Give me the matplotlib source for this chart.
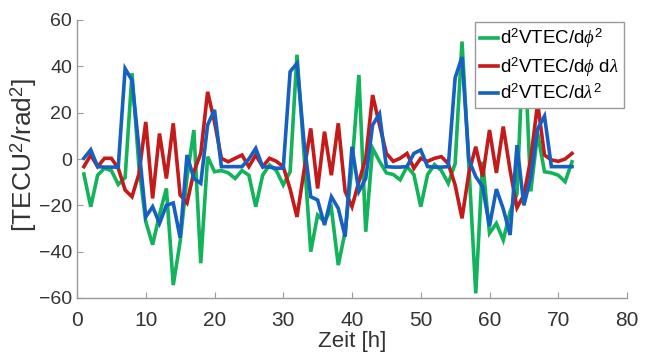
import matplotlib
matplotlib.use("Agg")
import matplotlib.pyplot as plt
import numpy as np

hours = list(range(1, 73))

d2_phi2 = [-6.5, -20.6, -7, -4, -5, -11, -8, 37, -3, -27,
           -37, -24, -12.7, -54.4, -35.7, -8, 12.5, -45, 1, -5.5,
           -5, -6, -8.4, -5, -7, -20.6, -7, -2.6, -5, -11.2,
           -5.5, 45, 3, -40, -24.2, -27, -21.3, -45.8, -31.4, -3,
           36.3, -31.4, 4.6, -1, -6, -6.7, -9, -3.3, -6.7, -20.6,
           -6.7, -2.4, -5, -10.5, -2, 50.7, -3, -58, -1.2, -32,
           -27.8, -35, -22.7, -15, 55, -14, 11, -5.5, -6, -7,
           -9.8, -1.2]

d2_phi_lam = [-3.3, 1.7, -3.3, 0.3, 0.3, -4, -13.4, -16.3, -6.5, 16,
              -17, 11, -8.4, 15.4, -15.5, -19, -5.5, 2.4, 29, 16,
              0.3, -1.2, 0.3, 1.7, -3.3, 1.7, -3.3, 0.3, -1, -3.3,
              -13, -25, -5.5, 13.2, -12.7, 11.8, -7, 15.4, -14, -20.6,
              -9.8, 0.3, 27.6, 14.7, 2.4, -1, 0.3, 2.4, -4, 0.3,
              -1, 0.3, 1, -2, -11.2, -25.6, -6, 5.3, -7.6, 12.5,
              -6, 14, -5, -21, -15.6, 0, 24, 1.7, -0.4, -1,
              0, 2.4]

d2_lam2 = [0.3, 4, -3.3, -3.5, -3.5, -3.5, 39, 34, 5, -25,
           -20.6, -27.8, -20, -19, -34, 1.7, -8.4, -10.5, 14.7, 21.2,
           -3.3, -3.3, -3.3, -3.3, 0, 4.6, -3.3, -3.5, -4, -4,
           37.7, 41.3, 8, -16.3, -17.7, -28.5, -16.3, -21.3, -33.5, 5.3,
           -14, -8.4, 14.7, 19.5, -3.3, -3.5, -3.5, -3.3, 2.4, 3.9,
           -3.3, -3.5, -3.5, -3.3, 35, 44, -0.4, -7.6, -12, -29,
           -13, -21.5, -32.8, 6, -20, -8, 13, 18.5, -3.3, -3.3,
           -3.3, -3.3]

labels = [r'd$^2$VTEC/d$\phi^2$', r'd$^2$VTEC/d$\phi$ d$\lambda$', r'd$^2$VTEC/d$\lambda^2$']
colors = ['#12B35A', '#C41A1A', '#1560C0']
xticks = [0, 10, 20, 30, 40, 50, 60, 70, 80]
yticks = [-60, -40, -20, 0, 20, 40, 60]

plt.rcParams['font.family'] = ['Liberation Sans', 'DejaVu Sans']
plt.rcParams['mathtext.fontset'] = 'custom'
plt.rcParams['mathtext.rm'] = 'Liberation Sans'
plt.rcParams['mathtext.it'] = 'Liberation Serif:italic'

fig = plt.figure(figsize=(6.51, 3.56), dpi=100)
ax = fig.add_axes([77/651, 1-298/356, 550/651, 278/356])

for series, lab, col in zip([d2_phi2, d2_phi_lam, d2_lam2], labels, colors):
    ax.plot(hours, series, color=col, lw=2.6, label=lab, solid_joinstyle='miter')

ax.set_xlim(0, 80)
ax.set_ylim(-60, 60)
ax.set_xticks(xticks)
ax.set_yticks(yticks)
ax.spines['top'].set_visible(False)
ax.spines['right'].set_visible(False)
for s in ['left', 'bottom']:
    ax.spines[s].set_color('#9a9a9a')
    ax.spines[s].set_linewidth(1.0)
ax.tick_params(direction='in', length=4, color='#9a9a9a', labelcolor='#333333')
ax.tick_params(axis='x', pad=9, labelsize=15)
ax.tick_params(axis='y', pad=3.5, labelsize=14)
ax.set_xlabel('Zeit [h]', fontsize=16, color='#333333', labelpad=1)
ax.set_ylabel(r'[TECU$^2$/rad$^2$]', fontsize=19, color='#333333')
ax.yaxis.set_label_coords((39 - 77) / 550, (298 - 155) / 278)

leg = ax.legend(loc='upper right', fontsize=13.5, handlelength=1.0, handletextpad=0.1,
                borderpad=0.25, labelspacing=0.28, fancybox=False, framealpha=1,
                borderaxespad=0)
leg.set_bbox_to_anchor((624/651, 1-22/356), transform=fig.transFigure)
leg.get_frame().set_edgecolor('#9a9a9a')
leg.get_frame().set_linewidth(1.0)

fig.savefig('out.png', dpi=100)
